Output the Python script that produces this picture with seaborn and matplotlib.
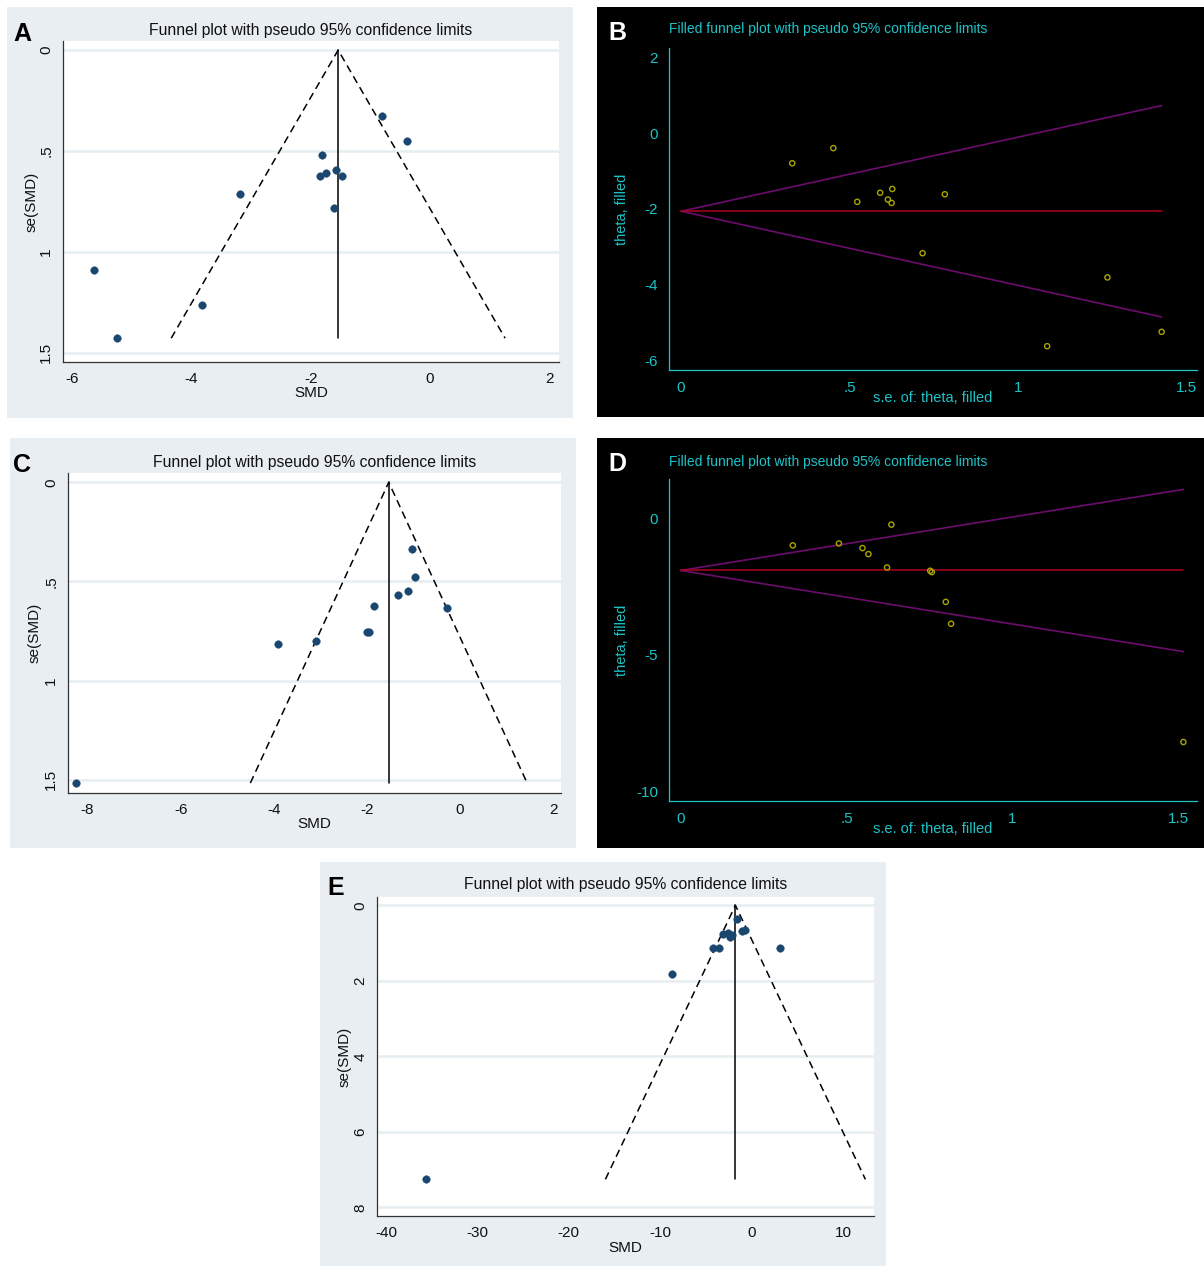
import numpy as np
import pandas as pd
import matplotlib
matplotlib.use("Agg")
import matplotlib.pyplot as plt
from matplotlib.patches import Rectangle
import seaborn as sns

# ---- study-level estimates -------------------------------------------------
# Panel A: SMD and its standard error
smd_a = [-0.80, -0.39, -1.81, -1.57, -1.84, -1.74, -1.48, -3.18, -1.61, -5.63, -3.82, -5.24]
se_a = [0.328, 0.452, 0.522, 0.592, 0.623, 0.610, 0.625, 0.714, 0.782, 1.087, 1.265, 1.427]
pooled_a = -1.54

# Panel B: trim-and-fill (theta vs its s.e.)
theta_b = [-0.79, -0.39, -1.81, -1.57, -1.47, -1.75, -1.84, -1.61, -3.17, -3.81, -5.63, -5.25]
se_b = [0.330, 0.452, 0.523, 0.591, 0.627, 0.614, 0.625, 0.783, 0.717, 1.266, 1.087, 1.427]
pooled_b = -2.06

# Panel C
smd_c = [-1.04, -0.96, -1.34, -1.12, -1.84, -0.27, -1.99, -1.95, -3.09, -3.91, -8.25]
se_c = [0.338, 0.476, 0.568, 0.548, 0.624, 0.634, 0.757, 0.753, 0.802, 0.817, 1.517]
pooled_c = -1.53

# Panel D
theta_d = [-0.99, -0.92, -1.09, -1.31, -1.80, -0.23, -1.92, -1.97, -3.06, -3.86, -8.19]
se_d = [0.338, 0.477, 0.548, 0.566, 0.622, 0.635, 0.752, 0.757, 0.799, 0.815, 1.515]
pooled_d = -1.91

# Panel E
smd_e = [-35.6, -8.76, 3.11, -4.18, -3.59, -1.65, -3.11, -2.56, -2.31, -2.12, -1.10, -0.74]
se_e = [7.26, 1.83, 1.14, 1.13, 1.13, 0.35, 0.77, 0.73, 0.84, 0.79, 0.68, 0.65]
pooled_e = -1.77

# tick values / labels
xt_a = [-6, -4, -2, 0, 2]
xt_c = [-8, -6, -4, -2, 0, 2]
xt_e = [-40, -30, -20, -10, 0, 10]
yt_se = [0, 0.5, 1, 1.5]
yl_se = ["0", ".5", "1", "1.5"]
yt_e = [0, 2, 4, 6, 8]
xt_filled = [0, 0.5, 1, 1.5]
xl_filled = ["0", ".5", "1", "1.5"]
yt_b = [-6, -4, -2, 0, 2]
yt_d = [-10, -5, 0]

TITLE = "Funnel plot with pseudo 95% confidence limits"
TITLE_F = "Filled funnel plot with pseudo 95% confidence limits"

# ---- styling ---------------------------------------------------------------
sns.set_theme(style="white")
plt.rcParams["font.family"] = ["Liberation Sans", "DejaVu Sans"]

W, H = 1204, 1266
fig = plt.figure(figsize=(W / 100, H / 100), dpi=100)
fig.patch.set_facecolor("white")

GRAPH_BG = "#e8eef1"
GRID = "#e6eef1"
NAVY = "#1a476f"
CYAN = "#1cc4c8"
YELLOW = "#aaa400"
PURPLE = "#6c0c6c"
RED = "#b0001e"


def px_axes(l, t, r, b):
    return fig.add_axes([l / W, 1 - b / H, (r - l) / W, (b - t) / H])


def bg_box(x0, y0, x1, y1, color):
    fig.add_artist(Rectangle((x0 / W, 1 - y1 / H), (x1 - x0) / W, (y1 - y0) / H,
                             transform=fig.transFigure, facecolor=color,
                             edgecolor="none", zorder=-5))


def ftext(x, y, s, **kw):
    fig.text(x / W, 1 - y / H, s, **kw)


def funnel_panel(ax, smd, se, pooled, xlim, ylim, xticks, yticks, yticklabels,
                 box, title_y, xlab_y, ylab_x):
    ax.set_facecolor("white")
    for yv in yticks:
        ax.axhline(yv, color=GRID, lw=1.8, zorder=0)
    semax = max(se)
    # pseudo 95% limits
    ax.plot([pooled - 1.96 * semax, pooled, pooled + 1.96 * semax],
            [semax, 0, semax], color="black", lw=1.1, ls=(0, (5, 3.2)), zorder=2)
    ax.plot([pooled, pooled], [0, semax], color="black", lw=1.1, zorder=2)
    df = pd.DataFrame({"SMD": smd, "se": se})
    sns.scatterplot(data=df, x="SMD", y="se", ax=ax, color=NAVY, s=30,
                    edgecolor=NAVY, linewidth=0.3, zorder=3)
    ax.set_xlim(*xlim)
    ax.set_ylim(*ylim)
    ax.set_xticks(xticks)
    ax.set_xticklabels([str(v) for v in xticks])
    ax.set_yticks(yticks)
    ax.set_yticklabels(yticklabels, rotation=90, va="center")
    for s in ("top", "right"):
        ax.spines[s].set_visible(False)
    for s in ("left", "bottom"):
        ax.spines[s].set_color("#333333")
        ax.spines[s].set_linewidth(0.9)
    ax.tick_params(axis="both", direction="out", length=4, width=0.8,
                   color="#333333", labelsize=11, labelcolor="#111111", pad=3)
    ax.set_xlabel("")
    ax.set_ylabel("")
    l, t, r, b = box
    cx = (l + r) / 2
    ftext(cx, title_y, TITLE, ha="center", va="center", fontsize=11.3, color="#111111")
    ftext(cx, xlab_y, "SMD", ha="center", va="center", fontsize=11, color="#111111")
    ftext(ylab_x, (t + b) / 2, "se(SMD)", ha="center", va="center", rotation=90,
          fontsize=11, color="#111111")


def filled_panel(ax, theta, se, pooled, xlim, ylim, yticks, box, title_y, xlab_y, ylab_x):
    ax.set_facecolor("black")
    semax = max(se)
    ax.plot([0, semax], [pooled, pooled + 1.96 * semax], color=PURPLE, lw=1.2, zorder=2)
    ax.plot([0, semax], [pooled, pooled - 1.96 * semax], color=PURPLE, lw=1.2, zorder=2)
    ax.plot([0, semax], [pooled, pooled], color=RED, lw=1.1, zorder=2)
    df = pd.DataFrame({"se": se, "theta": theta})
    sns.scatterplot(data=df, x="se", y="theta", ax=ax, s=14, facecolor="none",
                    edgecolor=YELLOW, linewidth=1.0, zorder=3)
    ax.set_xlim(*xlim)
    ax.set_ylim(*ylim)
    ax.set_xticks(xt_filled)
    ax.set_xticklabels(xl_filled)
    ax.set_yticks(yticks)
    ax.set_yticklabels([str(v) for v in yticks])
    for s in ("top", "right"):
        ax.spines[s].set_visible(False)
    for s in ("left", "bottom"):
        ax.spines[s].set_color(CYAN)
        ax.spines[s].set_linewidth(0.9)
    ax.tick_params(axis="both", direction="out", length=5, width=0.8,
                   color=CYAN, labelsize=11, labelcolor=CYAN, pad=3)
    ax.set_xlabel("")
    ax.set_ylabel("")
    l, t, r, b = box
    ftext(l, title_y, TITLE_F, ha="left", va="center", fontsize=10, color=CYAN)
    ftext((l + r) / 2, xlab_y, "s.e. of: theta, filled", ha="center", va="center",
          fontsize=10.5, color=CYAN)
    ftext(ylab_x, (t + b) / 2, "theta, filled", ha="center", va="center", rotation=90,
          fontsize=10.5, color=CYAN)


# ---- panel backgrounds -----------------------------------------------------
bg_box(7, 7, 573, 418, GRAPH_BG)
bg_box(597, 7, 1204, 417, "black")
bg_box(10, 438, 576, 848, GRAPH_BG)
bg_box(597, 438, 1204, 848, "black")
bg_box(320, 862, 886, 1266, GRAPH_BG)

# ---- A ----
box_a = (63, 41, 559, 362)
ax_a = px_axes(*box_a)
funnel_panel(ax_a, smd_a, se_a, pooled_a, (-6.15, 2.16), (1.545, -0.045), xt_a,
             yt_se, yl_se, box_a, title_y=31, xlab_y=393, ylab_x=32)

# ---- B ----
box_b = (669, 48, 1197, 370)
ax_b = px_axes(*box_b)
filled_panel(ax_b, theta_b, se_b, pooled_b, (-0.036, 1.532), (-6.26, 2.26), yt_b,
             box_b, title_y=29, xlab_y=398, ylab_x=622)

# ---- C ----
box_c = (68, 473, 561, 793)
ax_c = px_axes(*box_c)
funnel_panel(ax_c, smd_c, se_c, pooled_c, (-8.42, 2.17), (1.567, -0.047), xt_c,
             yt_se, yl_se, box_c, title_y=463, xlab_y=824, ylab_x=35)

# ---- D ----
box_d = (669, 479, 1197, 801)
ax_d = px_axes(*box_d)
filled_panel(ax_d, theta_d, se_d, pooled_d, (-0.035, 1.556), (-10.35, 1.44), yt_d,
             box_d, title_y=462, xlab_y=829, ylab_x=622)

# ---- E ----
box_e = (377, 897, 874, 1216)
ax_e = px_axes(*box_e)
funnel_panel(ax_e, smd_e, se_e, pooled_e, (-41.0, 13.4), (8.23, -0.22), xt_e,
             yt_e, [str(v) for v in yt_e], box_e, title_y=885, xlab_y=1248, ylab_x=345)

# ---- panel letters ----
for (x, y, s, c) in [(22, 34, "A", "black"), (617, 33, "B", "white"),
                     (22, 465, "C", "black"), (617, 464, "D", "white"),
                     (336, 888, "E", "black")]:
    ftext(x, y, s, ha="center", va="center", fontsize=18, fontweight="bold", color=c)

fig.savefig("out.png", dpi=100)
